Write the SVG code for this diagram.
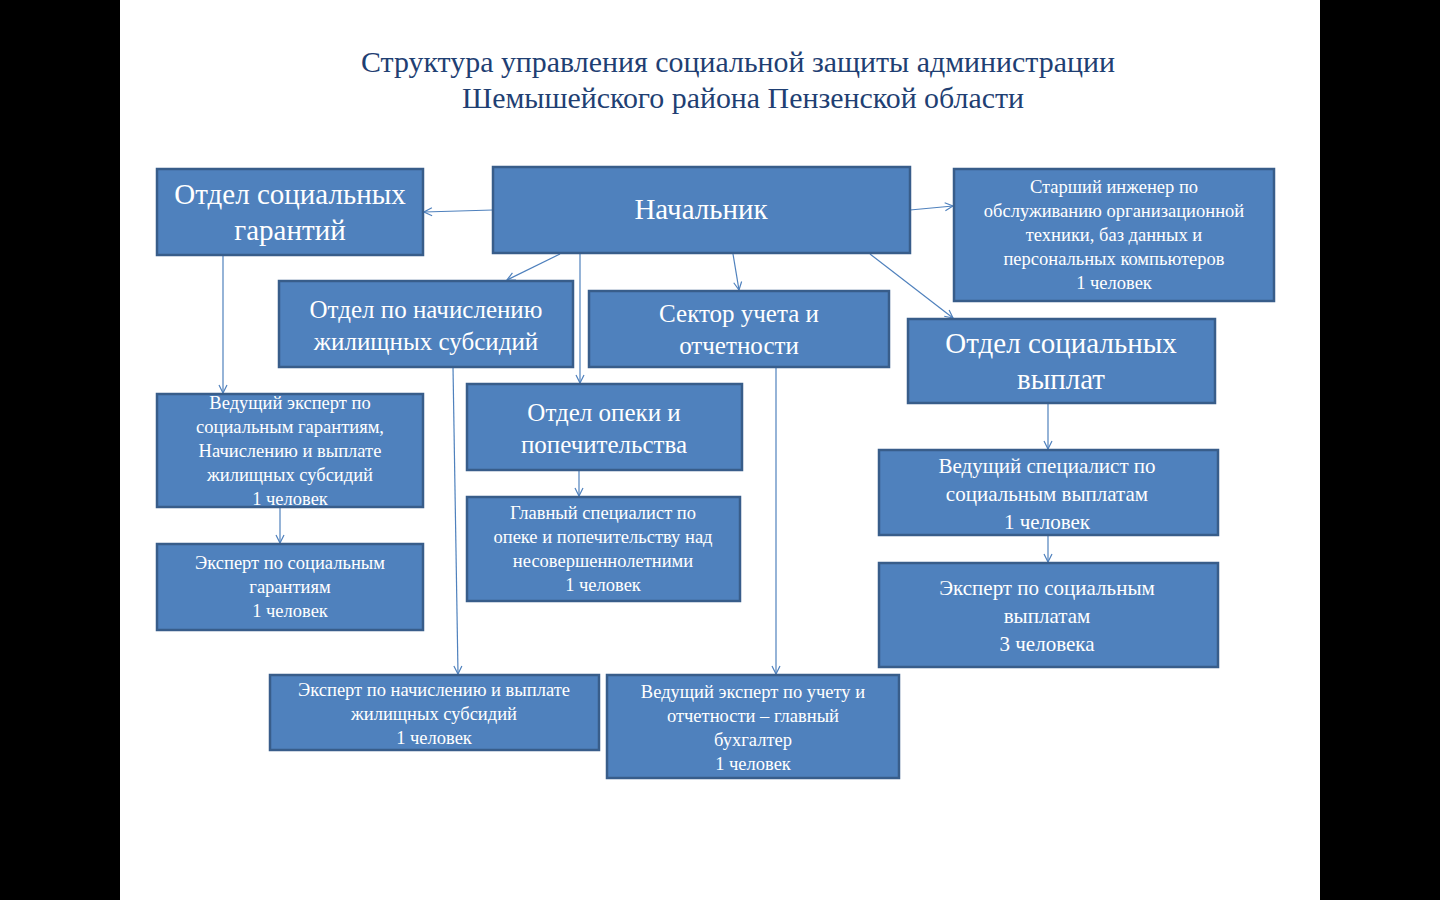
<svg xmlns="http://www.w3.org/2000/svg" width="1440" height="900" viewBox="0 0 1440 900">
<style>
.b{fill:#4F81BD;stroke:#385D8A;stroke-width:2.5}
text{font-family:"Liberation Serif",serif;fill:#fff;text-anchor:middle}
.t{fill:#1F3F73}
.c line{stroke:#4F81BD;stroke-width:1.2;marker-end:url(#a)}
</style>
<defs><marker id="a" markerWidth="10" markerHeight="10" refX="9" refY="5" orient="auto" markerUnits="userSpaceOnUse"><path d="M1,1L9,5L1,9" fill="none" stroke="#4F81BD" stroke-width="1.2"/></marker></defs>
<rect width="1440" height="900" fill="#000"/>
<rect x="120" width="1200" height="900" fill="#fff"/>
<text class="t" x="738" y="72" font-size="29" textLength="754" lengthAdjust="spacingAndGlyphs">Структура управления социальной защиты администрации</text>
<text class="t" x="743" y="108" font-size="29" textLength="562" lengthAdjust="spacingAndGlyphs">Шемышейского района Пензенской области</text>
<g class="c">
<line x1="493" y1="210" x2="424" y2="212"/>
<line x1="910" y1="210" x2="953" y2="206"/>
<line x1="560" y1="254" x2="507" y2="280"/>
<line x1="580" y1="254" x2="580" y2="383"/>
<line x1="733" y1="254" x2="739" y2="290"/>
<line x1="870" y1="254" x2="953" y2="318"/>
<line x1="223" y1="255" x2="223" y2="393"/>
<line x1="280" y1="507" x2="280" y2="543"/>
<line x1="453" y1="367" x2="458" y2="674"/>
<line x1="579" y1="470" x2="579" y2="496"/>
<line x1="776" y1="367" x2="776" y2="674"/>
<line x1="1048" y1="403" x2="1048" y2="449"/>
<line x1="1048" y1="535" x2="1048" y2="562"/>
</g>
<g id="n1"><rect class="b" x="157" y="169" width="266" height="86"/><text x="290" y="204" font-size="29">Отдел социальных</text><text x="290" y="240" font-size="29">гарантий</text></g>
<g id="n2"><rect class="b" x="493" y="167" width="417" height="86"/><text x="701" y="219" font-size="29">Начальник</text></g>
<g id="n3"><rect class="b" x="954" y="169" width="320" height="132"/><g font-size="18.5"><text x="1114" y="193">Старший инженер по</text><text x="1114" y="217">обслуживанию организационной</text><text x="1114" y="241">техники, баз данных и</text><text x="1114" y="265">персональных компьютеров</text><text x="1114" y="289">1 человек</text></g></g>
<g id="n4"><rect class="b" x="279" y="281" width="294" height="86"/><text x="426" y="318" font-size="25">Отдел по начислению</text><text x="426" y="350" font-size="25">жилищных субсидий</text></g>
<g id="n5"><rect class="b" x="589" y="291" width="300" height="76"/><text x="739" y="322" font-size="25">Сектор учета и</text><text x="739" y="354" font-size="25">отчетности</text></g>
<g id="n6"><rect class="b" x="908" y="319" width="307" height="84"/><text x="1061" y="353" font-size="29">Отдел социальных</text><text x="1061" y="389" font-size="29">выплат</text></g>
<g id="n7"><rect class="b" x="157" y="394" width="266" height="113"/><g font-size="18.5"><text x="290" y="409">Ведущий эксперт по</text><text x="290" y="433">социальным гарантиям,</text><text x="290" y="457">Начислению и выплате</text><text x="290" y="481">жилищных субсидий</text><text x="290" y="505">1 человек</text></g></g>
<g id="n8"><rect class="b" x="467" y="384" width="275" height="86"/><text x="604" y="421" font-size="25">Отдел опеки и</text><text x="604" y="453" font-size="25">попечительства</text></g>
<g id="n9"><rect class="b" x="157" y="544" width="266" height="86"/><g font-size="18.5"><text x="290" y="569">Эксперт по социальным</text><text x="290" y="593">гарантиям</text><text x="290" y="617">1 человек</text></g></g>
<g id="n10"><rect class="b" x="467" y="497" width="273" height="104"/><g font-size="18.5"><text x="603" y="519">Главный специалист по</text><text x="603" y="543">опеке и попечительству над</text><text x="603" y="567">несовершеннолетними</text><text x="603" y="591">1 человек</text></g></g>
<g id="n11"><rect class="b" x="879" y="450" width="339" height="85"/><g font-size="21"><text x="1047" y="473">Ведущий специалист  по</text><text x="1047" y="501">социальным  выплатам</text><text x="1047" y="529">1 человек</text></g></g>
<g id="n12"><rect class="b" x="879" y="563" width="339" height="104"/><g font-size="21"><text x="1047" y="595">Эксперт  по социальным</text><text x="1047" y="623">выплатам</text><text x="1047" y="651">3 человека</text></g></g>
<g id="n13"><rect class="b" x="270" y="675" width="329" height="75"/><g font-size="18.5"><text x="434" y="696">Эксперт по начислению и выплате</text><text x="434" y="720">жилищных субсидий</text><text x="434" y="744">1 человек</text></g></g>
<g id="n14"><rect class="b" x="607" y="675" width="292" height="103"/><g font-size="18.5"><text x="753" y="698">Ведущий эксперт по учету и</text><text x="753" y="722">отчетности – главный</text><text x="753" y="746">бухгалтер</text><text x="753" y="770">1 человек</text></g></g>
</svg>
